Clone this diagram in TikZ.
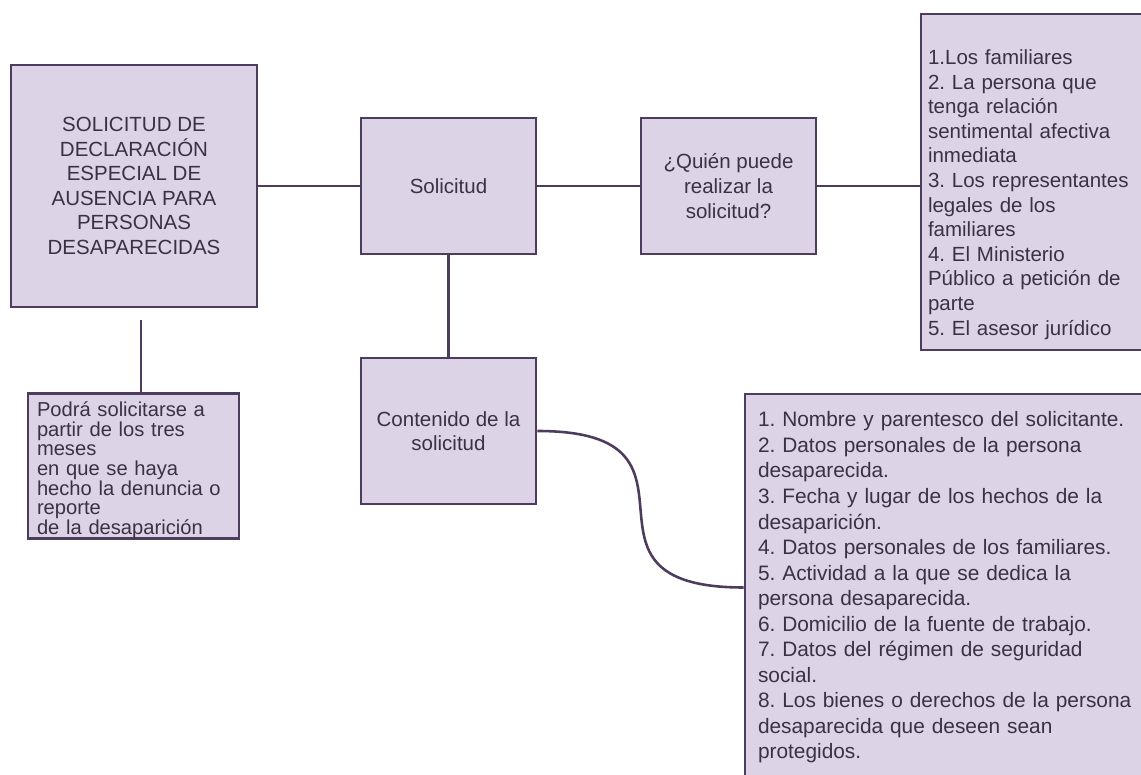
\documentclass[tikz,border=0pt]{standalone}
\usepackage{fontspec}
\setmainfont{Liberation Sans}
\usetikzlibrary{calc}
\definecolor{boxfill}{RGB}{220,212,230}
\definecolor{boxline}{RGB}{78,60,94}
\definecolor{boxtext}{RGB}{58,50,66}
\tikzset{
    my-box/.style={
        draw=boxline, fill=boxfill, line width=2.4pt, text=boxtext,
        inner sep=0pt, align=center, font=\fontsize{17.5}{21}\selectfont\frenchspacing
    },
    my-list/.style={
        my-box, align=left
    },
    my-wire/.style={
        draw=boxline, line width=2.2pt
    },
}
\begin{document}
\begin{tikzpicture}

        % PAGE ------------------------------------------------------------------------------------
        \clip (0, 0) rectangle (34.23, -23.25);
        \fill[white] (0, 0) rectangle (34.23, -23.25);

        % MAIN BOX
        \node[my-box, minimum width=7.38cm, minimum height=7.26cm] (MAIN) at (4.02, -5.58)
            {SOLICITUD DE\\DECLARACIÓN\\ESPECIAL DE\\AUSENCIA PARA\\PERSONAS\\DESAPARECIDAS};

        % TOP ROW
        \node[my-box, minimum width=5.25cm, minimum height=4.08cm] (SOL)   at ($(MAIN) + (9.435, 0)$) {Solicitud};
        \node[my-box, minimum width=5.25cm, minimum height=4.08cm] (QUIEN) at ($(SOL) + (8.4, 0)$)    {¿Quién puede\\realizar la\\solicitud?};
        \node[my-list, text width=7.95cm, inner xsep=.21cm, minimum height=10.08cm] (FAM) at ($(QUIEN) + (9.96, .12)$)
            {\rule{0pt}{34pt}1.Los familiares\\2. La persona que\\tenga relación\\sentimental afectiva\\inmediata\\3. Los representantes\\legales de los\\familiares\\4. El Ministerio\\Público a petición de\\parte\\5. El asesor jurídico};

        % BOTTOM ROW
        \node[my-box, minimum width=5.25cm, minimum height=4.38cm] (CONT) at ($(SOL) + (0, -7.35)$) {Contenido de la\\solicitud};
        \node[my-list, text width=5.79cm, inner xsep=.27cm, minimum height=4.26cm,
              font=\fontsize{17.2}{16.8}\selectfont] (PODRA) at ($(MAIN) + (-.015, -8.4)$)
            {\rule{0pt}{20pt}Podrá solicitarse a\\partir de los tres\\meses\\en que se haya\\hecho la denuncia o\\reporte\\de la desaparición};
        \node[my-list, text width=12.87cm, inner xsep=.39cm, minimum height=11.61cm,
              font=\fontsize{17.8}{21.8}\selectfont\frenchspacing] (ITEMS) at ($(CONT) + (15.72, -4.695)$)
            {1. Nombre y parentesco del solicitante.\\2. Datos personales de la persona\\desaparecida.\\3. Fecha y lugar de los hechos de la\\desaparición.\\4. Datos personales de los familiares.\\5. Actividad a la que se dedica la\\persona desaparecida.\\6. Domicilio de la fuente de trabajo.\\7. Datos del régimen de seguridad\\social.\\8. Los bienes o derechos de la persona\\desaparecida que deseen sean\\protegidos.};

        % WIRES
        \draw[my-wire] (MAIN.east)  -- (SOL.west);
        \draw[my-wire] (SOL.east)   -- (QUIEN.west);
        \draw[my-wire] (QUIEN.east) -- (QUIEN.east -| FAM.west);
        \draw[my-wire] (SOL.south)  -- (CONT.north);
        \coordinate (MAINDOWN) at ($(MAIN.south) + (.21, -.36)$);
        \draw[my-wire] (MAINDOWN) -- (MAINDOWN |- PODRA.north);
        \draw[my-wire] (CONT.east) to[out=0, in=180, looseness=1.9] (ITEMS.west);

\end{tikzpicture}
\end{document}
